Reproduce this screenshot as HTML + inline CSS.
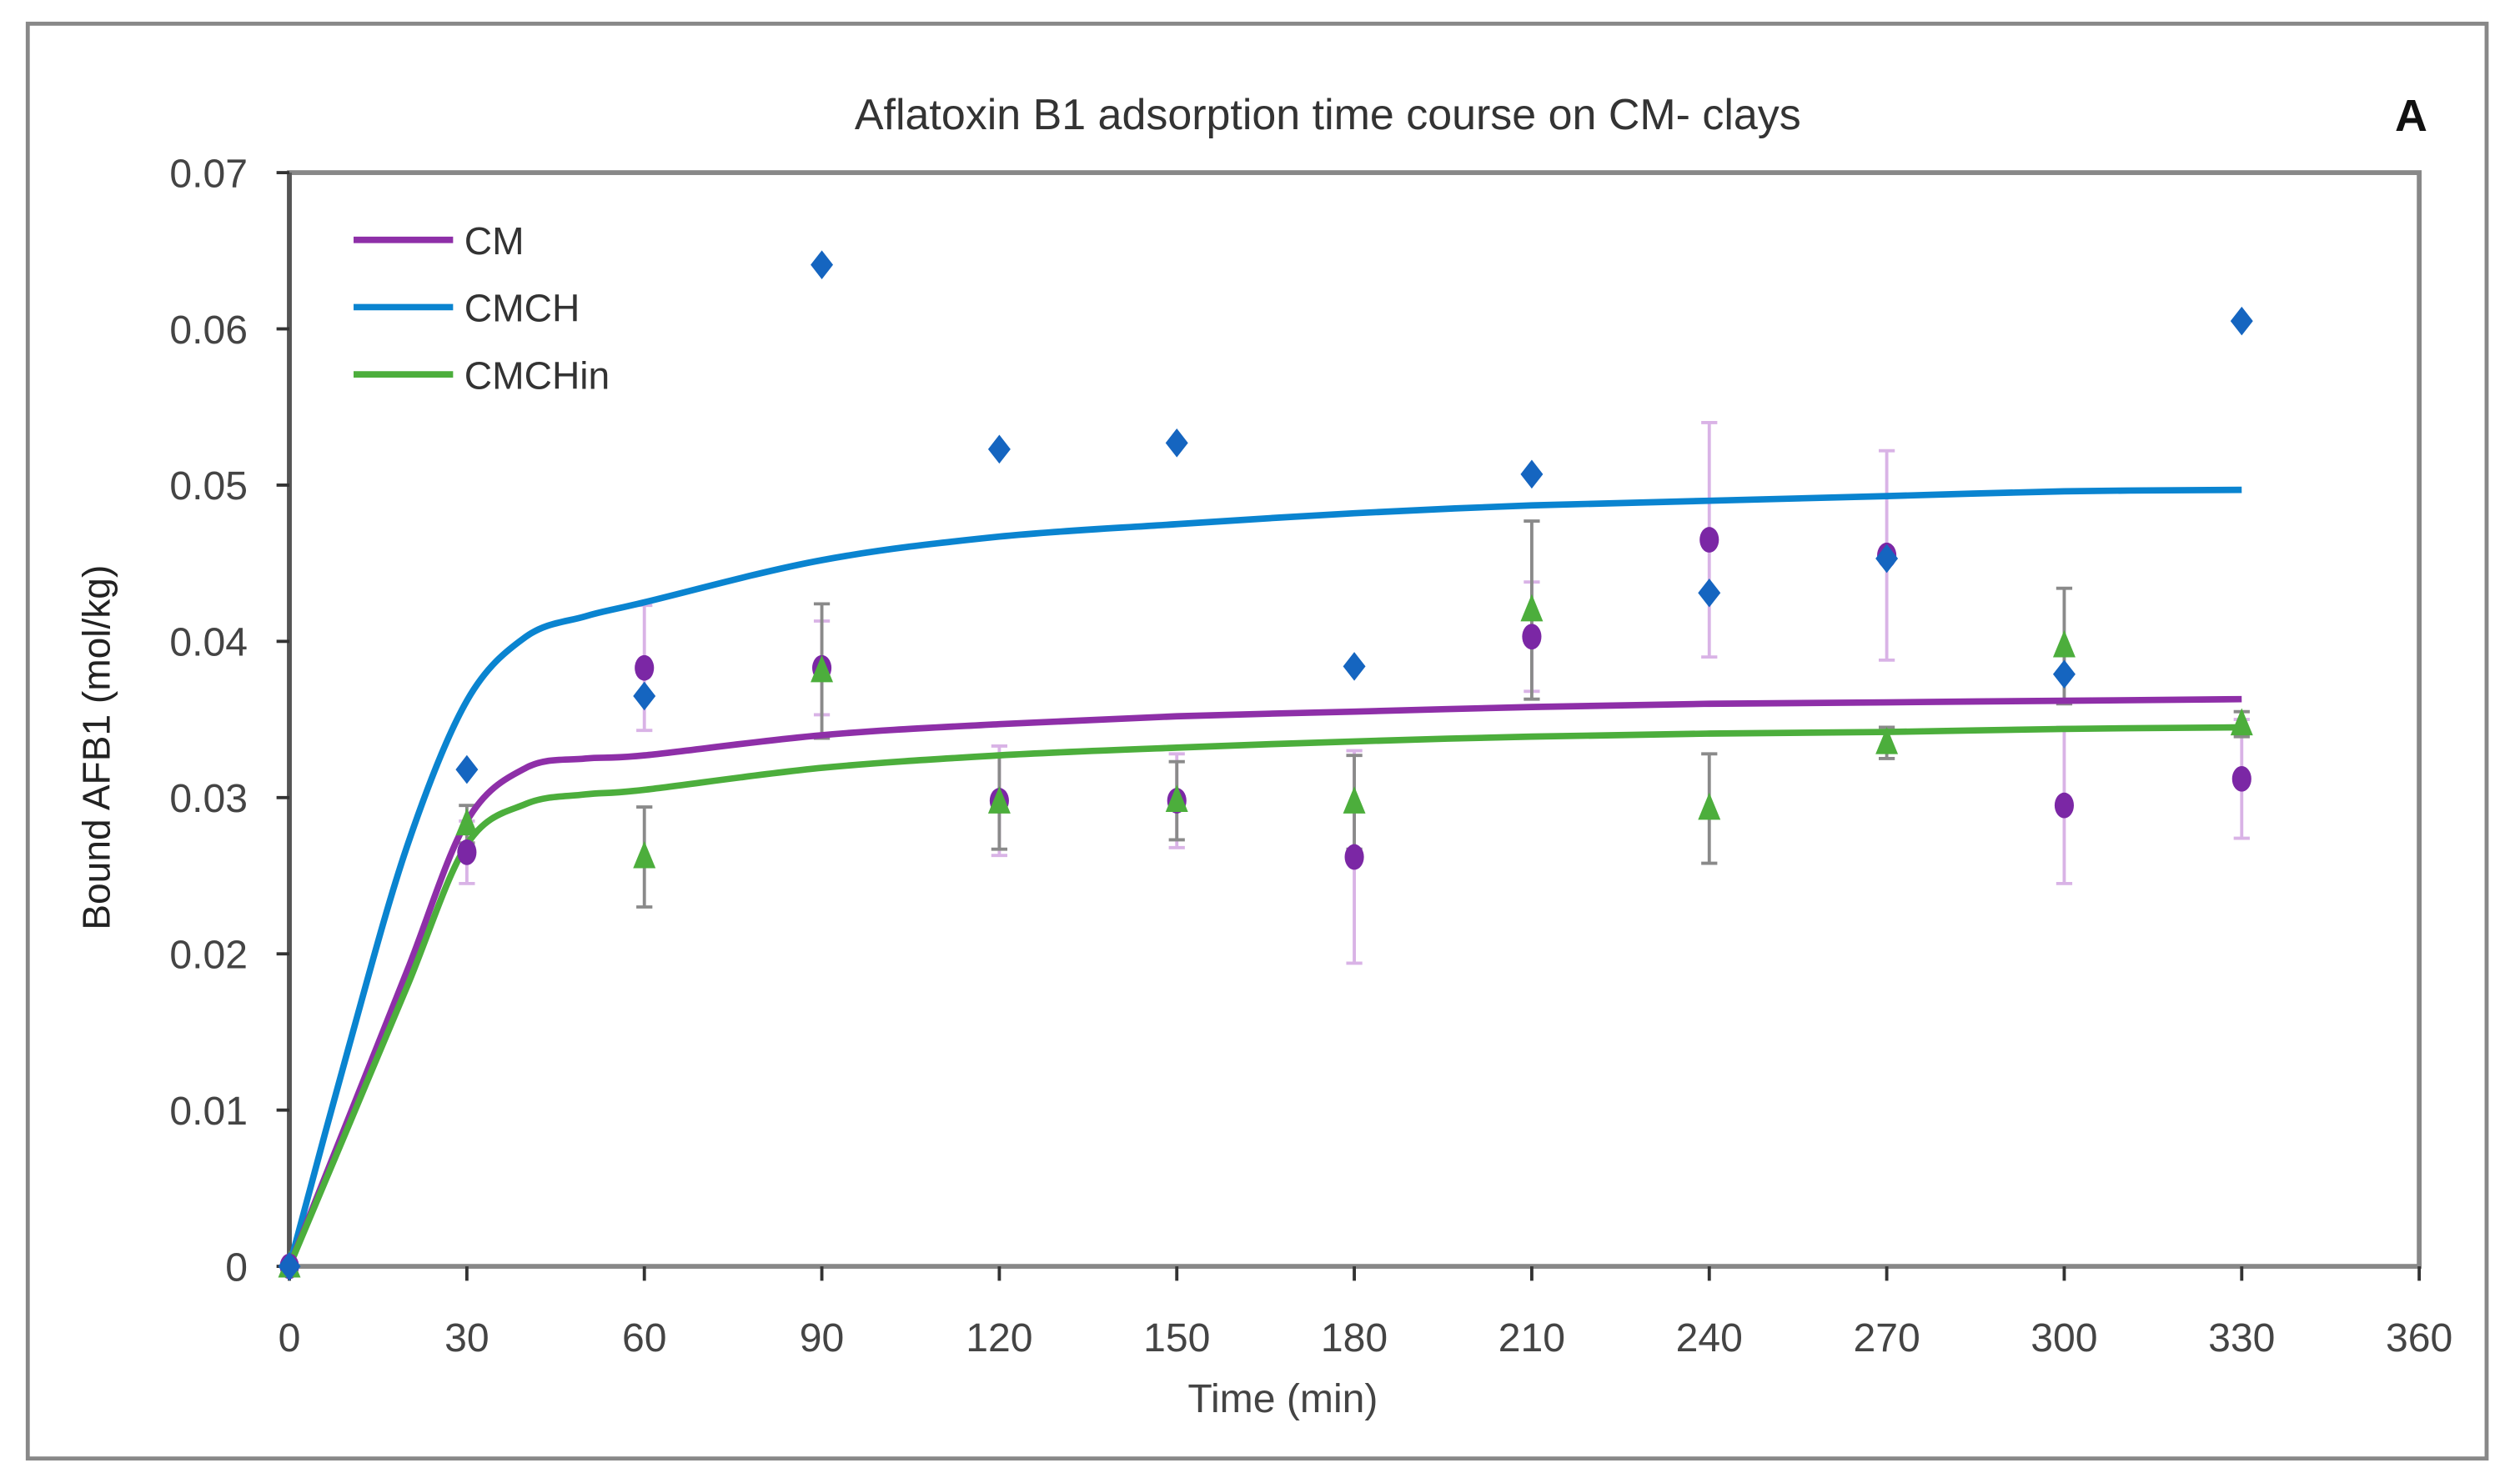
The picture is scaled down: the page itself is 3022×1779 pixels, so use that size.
<!DOCTYPE html>
<html><head><meta charset="utf-8"><style>
html,body{margin:0;padding:0;background:#fff;}
svg{display:block;font-family:"Liberation Sans",sans-serif;}
</style></head><body>
<svg id="chart" width="3022" height="1779" viewBox="-2.3 -1.8 1570.1 926.1" preserveAspectRatio="none" xmlns="http://www.w3.org/2000/svg">
<rect x="15" y="13" width="1532" height="896" fill="#fff" stroke="#888" stroke-width="2.5"/>
<text x="825" y="79" text-anchor="middle" font-size="27" fill="#333">Aflatoxin B1 adsorption time course on CM- clays</text>
<text x="1500" y="80" text-anchor="middle" font-size="28" font-weight="bold" fill="#111">A</text>
<rect x="178" y="106" width="1327" height="683" fill="none" stroke="#888" stroke-width="3"/>
<g id="axes"></g>
<g id="series"></g>
<text x="797" y="880" text-anchor="middle" font-size="25" fill="#444">Time (min)</text>
<text transform="translate(66,465) rotate(-90)" text-anchor="middle" font-size="24" fill="#222">Bound AFB1 (mol/kg)</text>
<g>
<line x1="218" y1="148" x2="280" y2="148" stroke="#8e2fa8" stroke-width="4"/>
<text x="287" y="157" font-size="24" fill="#333">CM</text>
<line x1="218" y1="190" x2="280" y2="190" stroke="#0a84d0" stroke-width="4"/>
<text x="287" y="199" font-size="24" fill="#333">CMCH</text>
<line x1="218" y1="232" x2="280" y2="232" stroke="#4cae3c" stroke-width="4"/>
<text x="287" y="241" font-size="24" fill="#333">CMCHin</text>
</g>
</svg>
<script>
const xTicks=[0,30,60,90,120,150,180,210,240,270,300,330,360];
const yTicks=[0,0.01,0.02,0.03,0.04,0.05,0.06,0.07];
const yTickLabels=["0","0.01","0.02","0.03","0.04","0.05","0.06","0.07"];
const times=[0,30,60,90,120,150,180,210,240,270,300,330];
const cmchPts=[0,0.0318,0.0365,0.0641,0.0523,0.0527,0.0384,0.0507,0.0431,0.0453,0.0379,0.0605];
const cmPts=[0,0.0265,0.0383,0.0383,0.0298,0.0298,0.0262,0.0403,0.0465,0.0455,0.0295,0.0312];
const cmErr=[0,0.002,0.004,0.003,0.0035,0.003,0.0068,0.0035,0.0075,0.0067,0.005,0.0038];
const inPts=[0,0.0283,0.0262,0.0381,0.0297,0.0298,0.0297,0.0420,0.0293,0.0335,0.0397,0.0347];
const inErr=[0,0.0012,0.0032,0.0043,0.003,0.0025,0.003,0.0057,0.0035,0.001,0.0037,0.0008];
const fitT=[0,10,20,30,40,50,60,90,120,150,180,210,240,270,300,330];
const cmchFit=[0,0.014,0.027,0.0362,0.0403,0.0416,0.0425,0.0452,0.0467,0.0475,0.0482,0.0487,0.049,0.0493,0.0496,0.0497];
const cmFit=[0,0.0095,0.019,0.0285,0.0319,0.0325,0.0327,0.034,0.0347,0.0352,0.0355,0.0358,0.036,0.0361,0.0362,0.0363];
const inFit=[0,0.009,0.018,0.027,0.0296,0.0302,0.0305,0.0319,0.0327,0.0332,0.0336,0.0339,0.0341,0.0342,0.0344,0.0345];
const X=v=>178+(v/360)*1327;
const Y=v=>789-(v/0.07)*683;
const NS="http://www.w3.org/2000/svg";
function mk(tag,attrs,parent){const e=document.createElementNS(NS,tag);for(const k in attrs)e.setAttribute(k,attrs[k]);parent.appendChild(e);return e;}
const axes=document.getElementById('axes');
const ser=document.getElementById('series');
let ax=mk('line',{x1:178,y1:106,x2:178,y2:789,stroke:'#555','stroke-width':3},axes);


yTicks.forEach((v,i)=>{
 let t=mk('line',{x1:170,y1:Y(v),x2:178,y2:Y(v),stroke:'#333','stroke-width':2},axes);
 
 
 let l=mk('text',{x:152,y:Y(v)+9,'text-anchor':'end','font-size':25,fill:'#444'},axes);
 l.textContent=yTickLabels[i];
 
 
});
xTicks.forEach(v=>{
 let t=mk('line',{x1:X(v),y1:789,x2:X(v),y2:798,stroke:'#333','stroke-width':2},axes);
 
 
 let l=mk('text',{x:X(v),y:842,'text-anchor':'middle','font-size':25,fill:'#444'},axes);
 l.textContent=String(v);
 
 
});
function curve(vals,color,name){
 const P=fitT.map((t,i)=>[X(t),Y(vals[i])]);
 let d='M'+P[0][0]+' '+P[0][1];
 for(let i=0;i<P.length-1;i++){
  const p0=P[Math.max(0,i-1)],p1=P[i],p2=P[i+1],p3=P[Math.min(P.length-1,i+2)];
  const c1=[p1[0]+(p2[0]-p0[0])/6,p1[1]+(p2[1]-p0[1])/6];
  const c2=[p2[0]-(p3[0]-p1[0])/6,p2[1]-(p3[1]-p1[1])/6];
  d+=` C${c1[0].toFixed(1)} ${c1[1].toFixed(1)} ${c2[0].toFixed(1)} ${c2[1].toFixed(1)} ${p2[0].toFixed(1)} ${p2[1].toFixed(1)}`;
 }
 let p=mk('path',{d:d,fill:'none',stroke:color,'stroke-width':4,'stroke-linejoin':'round'},ser);
 
 
}
function errs(vals,err,color,name){
 times.forEach((t,i)=>{ if(!err[i])return;
  const x=X(t),a=Y(vals[i]+err[i]),b=Y(vals[i]-err[i]);
  let g=mk('path',{d:`M${x} ${a}V${b}M${x-5} ${a}H${x+5}M${x-5} ${b}H${x+5}`,stroke:color,'stroke-width':2,fill:'none'},ser);
  
  
 });
}
errs(cmPts,cmErr,'#d9b3e6','cm-error-bar');
errs(inPts,inErr,'#8a8a8a','cmchin-error-bar');
curve(cmchFit,'#0a84d0','cmch-fit-line');
curve(cmFit,'#8e2fa8','cm-fit-line');
curve(inFit,'#4cae3c','cmchin-fit-line');
times.forEach((t,i)=>{
 let c=mk('ellipse',{cx:X(t),cy:Y(cmPts[i]),rx:6,ry:8,fill:'#7b27a5'},ser);
 
 
});
times.forEach((t,i)=>{
 const x=X(t),y=Y(inPts[i]);
 let tr=mk('polygon',{points:`${x},${y-10} ${x+7},${y+7} ${x-7},${y+7}`,fill:'#4cae3c'},ser);
 
 
});
times.forEach((t,i)=>{
 const x=X(t),y=Y(cmchPts[i]);
 let dm=mk('polygon',{points:`${x},${y-9} ${x+7},${y} ${x},${y+9} ${x-7},${y}`,fill:'#1565c0'},ser);
 
 
});
</script>
</body></html>
